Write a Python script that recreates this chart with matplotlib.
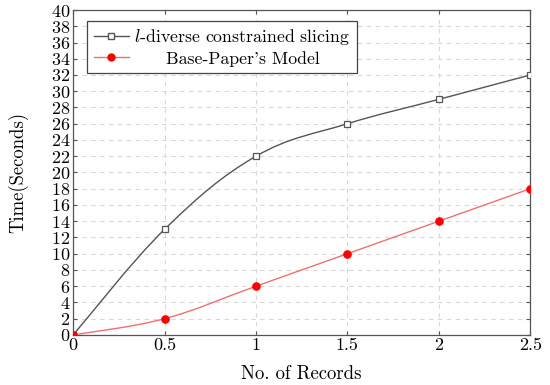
import matplotlib
matplotlib.use("Agg")
import matplotlib.pyplot as plt
from matplotlib.path import Path
from matplotlib.patches import PathPatch
from matplotlib.lines import Line2D
import numpy as np

plt.rcParams['font.family'] = ['cmr10', 'DejaVu Serif']
plt.rcParams['mathtext.fontset'] = 'cm'
plt.rcParams['axes.formatter.use_mathtext'] = True
plt.rcParams['axes.unicode_minus'] = False

records = [0, 0.5, 1, 1.5, 2, 2.5]
ldiverse_time = [0, 13, 22, 26, 29, 32]
base_time = [0, 2, 6, 10, 14, 18]
x_ticks = [0, 0.5, 1, 1.5, 2, 2.5]
x_tick_labels = ['0', '0.5', '1', '1.5', '2', '2.5']
y_ticks = list(range(0, 41, 2))

label_l = r'$l$-diverse constrained slicing'
label_b = "Base-Paper's Model"


def smooth_path(ax, xs, ys, tension=0.55):
    # pgfplots-like smooth curve: cubic Bezier through the points (display coords)
    pts = ax.transData.transform(np.column_stack([xs, ys]))
    n = len(pts)
    verts = [pts[0]]
    codes = [Path.MOVETO]
    for i in range(n - 1):
        p0 = pts[i - 1] if i > 0 else pts[i]
        p1 = pts[i]
        p2 = pts[i + 1]
        p3 = pts[i + 2] if i + 2 < n else pts[i + 1]
        c1 = p1 + tension * (p2 - p0) / 3.0
        c2 = p2 - tension * (p3 - p1) / 3.0
        verts += [c1, c2, p2]
        codes += [Path.CURVE4] * 3
    inv = ax.transData.inverted()
    return Path(inv.transform(np.array(verts)), codes)


fig = plt.figure(figsize=(5.5, 3.85), dpi=100)
ax = fig.add_axes([0.133, 0.130, 0.831, 0.844])
ax.set_xlim(0, 2.5)
ax.set_ylim(0, 40)

gray = '#555555'
red_line = '#f07070'
red = '#ff0000'

fig.canvas.draw()
p1 = smooth_path(ax, records, ldiverse_time)
p2 = smooth_path(ax, records, base_time)
ax.add_patch(PathPatch(p1, facecolor='none', edgecolor=gray, lw=1.0, zorder=3))
ax.add_patch(PathPatch(p2, facecolor='none', edgecolor=red_line, lw=1.0, zorder=3))
ax.plot(records, ldiverse_time, ls='none', marker='s', ms=4.8, mfc='white',
        mec=gray, mew=0.9, zorder=4)
ax.plot(records, base_time, ls='none', marker='o', ms=5.2, mfc=red, mec=red, zorder=5)

ax.set_xticks(x_ticks)
ax.set_xticklabels(x_tick_labels)
ax.set_yticks(y_ticks)
ax.grid(True, color='#d8d8d8', ls=(0, (4, 4)), lw=0.8)
ax.set_axisbelow(True)
for s in ax.spines.values():
    s.set_color('#555555')
    s.set_linewidth(0.9)
ax.tick_params(direction='in', length=3, width=0.8, color='#555555',
               top=True, right=True, labelsize=13, pad=2)
ax.set_xlabel('No. of Records', fontsize=13.5, labelpad=9)
ax.set_ylabel('Time(Seconds)', fontsize=13.5, labelpad=16)

handles = [
    Line2D([], [], color=gray, lw=1.0, marker='s', ms=4.5, mfc='white', mec=gray),
    Line2D([], [], color=red_line, lw=1.0, marker='o', ms=5, mfc=red, mec=red),
]
leg = ax.legend(handles, [label_l, label_b], loc='upper left',
                bbox_to_anchor=(0.031, 0.966), borderaxespad=0, fontsize=12.8,
                fancybox=False, framealpha=1, edgecolor='#444444',
                handlelength=2.0, handletextpad=0.3, borderpad=0.35,
                labelspacing=0.2)
leg.get_frame().set_linewidth(0.9)

# center the second legend entry's text under the first (pgfplots look)
fig.canvas.draw()
renderer = fig.canvas.get_renderer()
texts = leg.get_texts()
w1 = texts[0].get_window_extent(renderer).width
w2 = texts[1].get_window_extent(renderer).width
items = leg._legend_handle_box.get_children()[0].get_children()
shift_pt = (w1 - w2) / 2.0 * 72.0 / fig.dpi
items[1].sep = items[1].sep + shift_pt

fig.savefig('out.png', dpi=100)
